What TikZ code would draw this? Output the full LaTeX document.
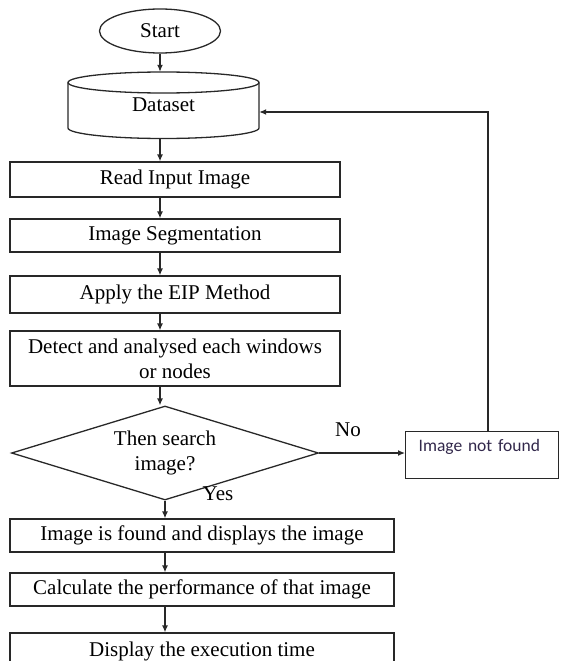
\documentclass[tikz,border=0pt]{standalone}
\usepackage{fontspec}
\setmainfont{Liberation Serif}
\newfontfamily\notefont{Carlito}
\usetikzlibrary{shapes.geometric}
\usetikzlibrary{arrows.meta}
\definecolor{inkline}{RGB}{40,40,40}
\definecolor{noteink}{RGB}{50,40,75}

\begin{document}
\begin{tikzpicture}[x=1pt, y=-1pt, line join=miter,
    every node/.style={font=\fontsize{21}{25}\selectfont},
    procbox/.style={draw=inkline, line width=1.3pt, rectangle, inner sep=0pt},
    flow/.style={draw=inkline, line width=1.3pt, arrows=-{Latex[length=7pt, width=6pt]}}]
  \useasboundingbox (0,0) rectangle (561,661);
  \node[procbox, ellipse, minimum width=121, minimum height=44] (start) at (160,31) {Start};
  % dataset drum, drawn by hand round an empty node
  \node[inner sep=0pt, minimum width=191, minimum height=66] (dataset) at (163.5,105) {Dataset};
  \draw[draw=inkline, line width=1.3pt] (163.5,82.5) ellipse [x radius=95.5, y radius=10.5];
  \draw[draw=inkline, line width=1.3pt] (68,82.5) -- (68,128)
    arc[start angle=180, end angle=0, x radius=95.5, y radius=10.5] -- (259,82.5);
  \node[procbox, minimum width=330, minimum height=35] (read) at (175,179.5) {Read Input Image};
  \node[procbox, minimum width=330, minimum height=33] (seg) at (175,235.5) {Image Segmentation};
  \node[procbox, minimum width=330, minimum height=37] (apply) at (175,294.5) {Apply the EIP Method};
  \node[procbox, minimum width=330, minimum height=55, align=center] (detect) at (175,358.5)
    {Detect and analysed each windows\\or nodes};
  \node[procbox, diamond, aspect=3.27, minimum width=307, minimum height=94, align=center] (decide)
    at (165,453) {Then search\\image?};
  \node[procbox, anchor=north west, minimum width=153, minimum height=47, inner xsep=13pt,
    text width=127pt, align=left, text height=19.5pt, text depth=27.5pt,
    font=\notefont\fontsize{17.5}{20}\selectfont, text=noteink] (notfound) at (405,431) {Image not found};
  \node[procbox, minimum width=384, minimum height=33] (found) at (202,535.5)
    {Image is found and displays the image};
  \node[procbox, minimum width=384, minimum height=33] (calc) at (202,589.5)
    {Calculate the performance of that image};
  \node[procbox, minimum width=384, minimum height=36] (show) at (202,651)
    {Display the execution time};
  \node (no) at (348,430) {No};
  \node (yes) at (218,494) {Yes};

  \draw[flow] (start.south) -- (start.south |- dataset.north);
  \draw[flow] (dataset.south -| start) -- (read.north -| start);
  \foreach \a/\b in {read/seg, seg/apply, apply/detect, detect/decide}
    \draw[flow] (\a.south -| start) -- (\b.north -| start);
  \draw[flow] (decide.south) -- (found.north -| decide.south);
  \foreach \a/\b in {found/calc, calc/show}
    \draw[flow] (\a.south -| decide.south) -- (\b.north -| decide.south);
  \draw[flow] (decide.east) -- (notfound.west |- decide.east);
  \coordinate (loop) at (488,112);
  \draw[flow] (notfound.north -| loop) -- (loop) -- (dataset.east |- loop);
\end{tikzpicture}
\end{document}
